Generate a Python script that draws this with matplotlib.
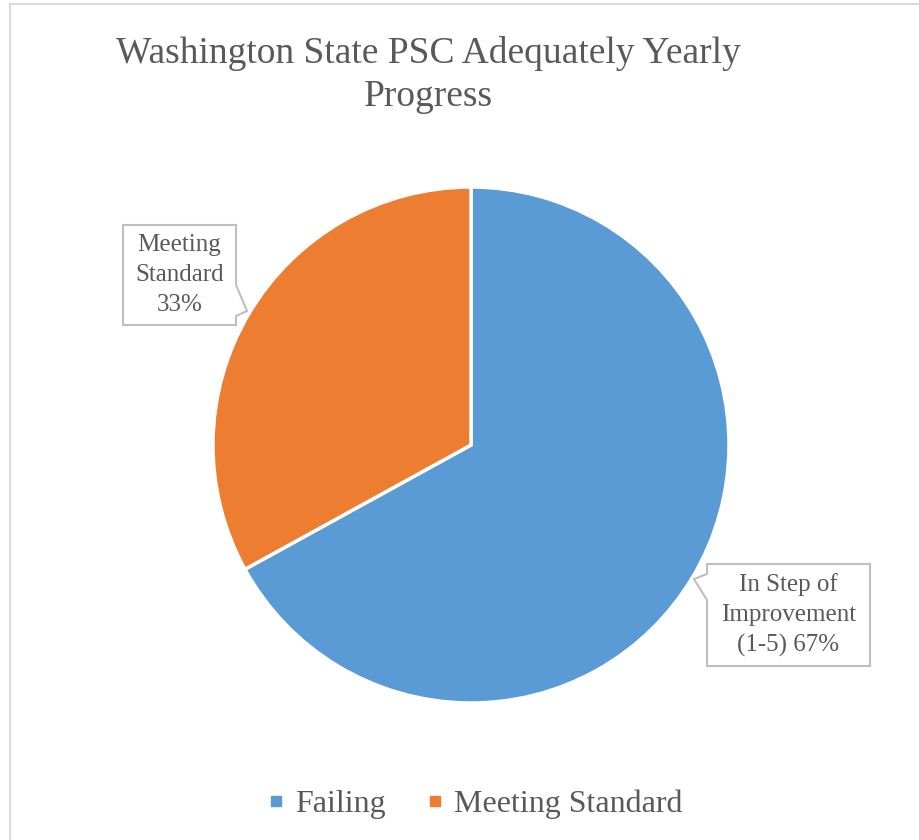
import numpy as np
import matplotlib.pyplot as plt
from matplotlib.path import Path
from matplotlib.patches import PathPatch, Rectangle
from matplotlib.lines import Line2D

plt.rcParams['font.family'] = ['Liberation Serif', 'DejaVu Serif']

# ---------------- DATA ----------------
categories = ["Failing", "Meeting Standard"]
values = [67, 33]
label_texts = ["In Step of\nImprovement\n(1-5) 67%", "Meeting\nStandard\n33%"]
colors = ["#5B9BD5", "#ED7D31"]
text_gray = "#595959"

# ---------------- FIGURE ----------------
W, H = 919, 840
fig = plt.figure(figsize=(W / 100, H / 100), dpi=100)
ax = fig.add_axes([0, 0, 1, 1])

# chart area border
fig.patches.append(Rectangle((10 / W, -0.05), 1.1, 1 - 4 / H + 0.05,
                             transform=fig.transFigure, fill=False,
                             edgecolor="#D9D9D9", lw=1.5))

cx, cy, r = 471, H - 445, 258
ax.pie(values, colors=colors, startangle=90, counterclock=False,
       center=(cx, cy), radius=r, frame=True,
       wedgeprops=dict(edgecolor="white", linewidth=2.5))
ax.set_xlim(0, W)
ax.set_ylim(0, H)
ax.set_aspect("equal")
ax.axis("off")


def callout(text, x0, x1, y0, y1, a, tip, b, side):
    # box in image coords (y down), pointer attach y's a,b and tip (x,y)
    Y = lambda v: H - v
    if side == "right":
        pts = [(x0, y0), (x1, y0), (x1, a), tip, (x1, b), (x1, y1), (x0, y1), (x0, y0)]
    else:
        pts = [(x0, y0), (x1, y0), (x1, y1), (x0, y1), (x0, b), tip, (x0, a), (x0, y0)]
    pts = [(px, Y(py)) for px, py in pts]
    codes = [Path.MOVETO] + [Path.LINETO] * (len(pts) - 2) + [Path.CLOSEPOLY]
    ax.add_patch(PathPatch(Path(pts, codes), facecolor="white",
                           edgecolor="#BFBFBF", lw=1.5, zorder=5))
    ax.text((x0 + x1) / 2, Y((y0 + y1) / 2), text, ha="center", va="center",
            fontsize=18, color=text_gray, linespacing=1.45, zorder=6)


callout(label_texts[1], 123, 236, 225, 325, 285, (247, 311), 316, "right")
callout(label_texts[0], 707, 870, 564, 666, 574, (694, 579), 600, "left")

# title
fig.text(428 / W, 1 - 75 / H, "Washington State PSC Adequately Yearly\nProgress",
         ha="center", va="center", fontsize=27, color=text_gray, linespacing=1.3)

# legend
handles = [Line2D([], [], ls="none", marker="s", markersize=6.5,
                  markerfacecolor=c, markeredgecolor=c) for c in colors]
fig.legend(handles, categories, loc="center", bbox_to_anchor=(475 / W, 1 - 804 / H),
           ncol=2, frameon=False, fontsize=23, labelcolor=text_gray,
           handlelength=0.5, handletextpad=0.35, columnspacing=1.3)

fig.savefig("out.png", dpi=100)
